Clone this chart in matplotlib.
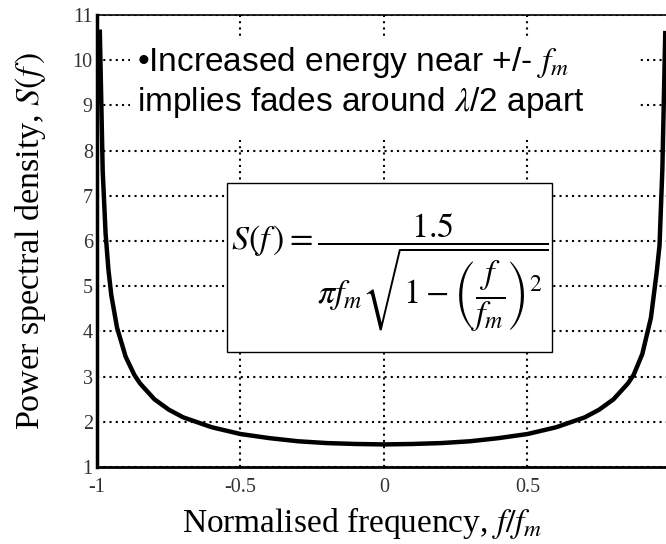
import matplotlib
matplotlib.use("Agg")
import matplotlib.pyplot as plt
from matplotlib.patches import Rectangle

# Data
freq = [-0.99, -0.98, -0.97, -0.96, -0.95, -0.93, -0.90, -0.87, -0.85, -0.80, -0.75,
        -0.70, -0.60, -0.50, -0.40, -0.30, -0.20, -0.10, 0.00, 0.10, 0.20, 0.30,
        0.40, 0.50, 0.60, 0.70, 0.75, 0.80, 0.85, 0.87, 0.90, 0.93, 0.95, 0.96,
        0.97, 0.98]
psd = [10.63, 7.54, 6.17, 5.36, 4.80, 4.08, 3.44, 3.04, 2.85, 2.50, 2.27,
       2.10, 1.88, 1.73, 1.64, 1.57, 1.53, 1.51, 1.50, 1.51, 1.53, 1.57,
       1.64, 1.73, 1.88, 2.10, 2.27, 2.50, 2.85, 3.04, 3.50, 4.30, 5.30, 5.90,
       7.60, 10.60]
xticks = [-1, -0.5, 0, 0.5]
xticklabels = ["-1", "-0.5", "0", "0.5"]
yticks = [1, 2, 3, 4, 5, 6, 7, 8, 9, 10, 11]
yticklabels = [str(v) for v in yticks]

plt.rcParams['mathtext.fontset'] = 'stix'

fig = plt.figure(figsize=(6.66, 5.44), dpi=100)
ax = fig.add_axes([0.1456, 0.1415, 1 - 0.1456, 0.9724 - 0.1415])

ax.set_xlim(-1, 0.9826)
ax.set_ylim(1, 11)
ax.set_xticks(xticks)
ax.set_xticklabels(xticklabels, fontsize=14.5, family='Liberation Serif',
                   color='#333333')
ax.set_yticks(yticks)
ax.set_yticklabels(yticklabels, fontsize=14.5, family='Liberation Serif',
                   color='#333333')
ax.tick_params(axis='y', length=0, pad=3)
ax.tick_params(axis='x', length=0, pad=8)

ax.grid(True, color='black', linestyle=(0, (1, 2)), linewidth=1.5)
ax.set_axisbelow(True)

ax.spines['right'].set_visible(False)
ax.spines['left'].set_linewidth(2.5)
ax.spines['bottom'].set_linewidth(2.0)
ax.spines['top'].set_linewidth(1.2)

ax.plot(freq, psd, color='black', linewidth=3.2, zorder=5)

# white area behind annotation text
ax.add_patch(Rectangle((-0.885, 8.23), 1.777, 2.26, facecolor='white',
                       edgecolor='none', zorder=2))
ax.text(-0.86, 9.94, "•Increased energy near +/- $f_m$", fontsize=24,
        family='Liberation Sans', va='center', ha='left', zorder=3)
ax.text(-0.86, 9.06, "implies fades around $\\lambda$/2 apart", fontsize=24,
        family='Liberation Sans', va='center', ha='left', zorder=3)

# formula box
ax.add_patch(Rectangle((-0.547, 3.54), 1.132, 3.74, facecolor='white',
                       edgecolor='black', linewidth=1.0, zorder=6))
ax.text(0.02, 5.3,
        r'$S(f\,)=\dfrac{1.5}{\pi f_m\sqrt{1-\left(\dfrac{f}{f_m}\right)^2}}$',
        fontsize=24.5, ha='center', va='center', zorder=7)

ax.set_xlabel(r"Normalised frequency, $f/f_m$", fontsize=24,
              family='Liberation Serif')
ax.xaxis.set_label_coords(0.467, -0.083)
ax.set_ylabel(r"Power spectral density, $S(f\,)$", fontsize=24.5,
              family='Liberation Serif')
ax.yaxis.set_label_coords(-0.086, 0.5)

fig.savefig("out.png", dpi=100)
